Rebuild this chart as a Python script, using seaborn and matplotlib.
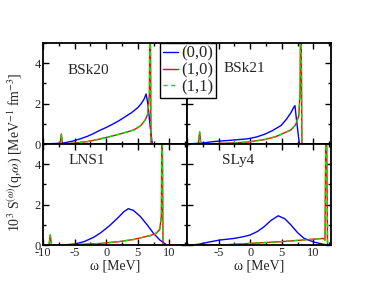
import numpy as np
import pandas as pd
import seaborn as sns
import matplotlib.pyplot as plt
from matplotlib.ticker import MultipleLocator
from matplotlib.lines import Line2D

# omega grids [MeV] and 10^3 S(q,w) [MeV^-1 fm^-3]
# the (1,1) curve sits on top of the (1,0) curve in every panel
w00_bsk20 = [-10, -6.8, -6, -5, -4, -3, -2, -1, 0, 1, 2, 3, 4, 5, 5.5, 6.0, 6.33, 6.6, 7.0, 7.3, 12.8]
s00_bsk20 = [0.0, 0.05, 0.1, 0.17, 0.27, 0.38, 0.52, 0.68, 0.82, 0.98, 1.15, 1.35, 1.55, 1.8, 1.98, 2.22, 2.48, 2.0, 0.8, 0.0, 0.0]
w10_bsk20 = [-10, -7.3, -7.1, -6.9, -5, -3, -1, 1, 3, 4.4, 5.5, 6.2, 6.6, 6.85, 6.96, 7.1, 12.8]
s10_bsk20 = [0.0, 0.0, 0.5, 0.0, 0.05, 0.12, 0.25, 0.4, 0.57, 0.7, 0.92, 1.2, 1.5, 2.5, 8.0, 0.0, 0.0]

w00_bsk21 = [-10, -7.4, -5.6, -3, -0.4, 1, 2.25, 3.5, 4.9, 5.8, 6.45, 6.9, 7.1, 7.3, 7.8, 12.8]
s00_bsk21 = [0.0, 0.06, 0.13, 0.19, 0.26, 0.35, 0.48, 0.66, 0.92, 1.25, 1.55, 1.82, 1.9, 1.3, 0.0, 0.0]
w10_bsk21 = [-10, -8.2, -8.0, -7.8, -3, -0.4, 2.25, 4, 4.9, 6.45, 7.2, 7.7, 7.9, 8.03, 8.2, 12.8]
s10_bsk21 = [0.0, 0.0, 0.6, 0.0, 0.05, 0.1, 0.22, 0.36, 0.48, 0.7, 0.95, 1.4, 2.5, 8.0, 0.0, 0.0]

w00_lns1 = [-10, -7.2, -5, -3.5, -2, -0.9, 0.5, 1.8, 2.8, 3.5, 4.3, 5.4, 6.5, 7.5, 8.5, 9.6, 12.8]
s00_lns1 = [0.0, 0.0, 0.05, 0.17, 0.38, 0.6, 0.95, 1.33, 1.65, 1.8, 1.72, 1.42, 1.0, 0.58, 0.25, 0.0, 0.0]
w10_lns1 = [-10, -9.05, -8.85, -8.65, -5, -0.9, 2, 4.4, 6, 7, 8, 8.5, 8.75, 8.85, 9.0, 12.8]
s10_lns1 = [0.0, 0.0, 0.5, 0.0, 0.02, 0.08, 0.17, 0.28, 0.4, 0.47, 0.6, 0.78, 1.5, 8.0, 0.0, 0.0]

w00_sly4 = [-10, -9.3, -8, -6.5, -4.8, -2.5, -1, 0, 1.2, 2.25, 3.3, 4.45, 5.5, 6.45, 7.5, 8.55, 10.1, 11.7, 12.8]
s00_sly4 = [0.0, 0.0, 0.05, 0.15, 0.25, 0.33, 0.42, 0.5, 0.68, 0.92, 1.22, 1.45, 1.3, 1.0, 0.62, 0.33, 0.15, 0.03, 0.0]
w10_sly4 = [-10, -4.8, 5.0, 11.6, 11.85, 12.05, 12.25, 12.8]
s10_sly4 = [0.0, 0.0, 0.17, 0.33, 0.25, 8.0, 0.0, 0.0]

models = ["BSk20", "BSk21", "LNS1", "SLy4"]
curves = {
    "BSk20": (w00_bsk20, s00_bsk20, w10_bsk20, s10_bsk20),
    "BSk21": (w00_bsk21, s00_bsk21, w10_bsk21, s10_bsk21),
    "LNS1": (w00_lns1, s00_lns1, w10_lns1, s10_lns1),
    "SLy4": (w00_sly4, s00_sly4, w10_sly4, s10_sly4),
}
series_labels = ["(0,0)", "(1,0)", "(1,1)"]
label_pos = {"BSk20": (0.167, 0.73), "BSk21": (0.257, 0.75),
             "LNS1": (0.174, 0.84), "SLy4": (0.243, 0.84)}

sns.set_style("ticks")
plt.rcParams["font.family"] = ["Liberation Serif", "DejaVu Serif"]
plt.rcParams["mathtext.fontset"] = "stix"

blue, red, green = "#0000ff", "#ff0000", "#00e600"

fig, axes = plt.subplots(2, 2, figsize=(3.74, 2.89), dpi=100)
fig.subplots_adjust(left=0.115, right=0.885, top=0.851, bottom=0.152,
                    hspace=0, wspace=0)

for ax, name in zip(axes.flat, models):
    w0, s0, w1, s1 = curves[name]
    sns.lineplot(x=w0, y=s0, ax=ax, color=blue, lw=1.0, estimator=None, sort=False)
    sns.lineplot(x=w1, y=s1, ax=ax, color=red, lw=1.0, estimator=None, sort=False)
    sns.lineplot(x=w1, y=s1, ax=ax, color=green, lw=1.0, estimator=None,
                 sort=False, linestyle=(0, (3, 2.5)))
    ax.set_xlim(-10, 12.8)
    ax.set_ylim(0, 5)
    ax.xaxis.set_major_locator(MultipleLocator(5))
    ax.xaxis.set_minor_locator(MultipleLocator(2.5))
    ax.yaxis.set_major_locator(MultipleLocator(2))
    ax.yaxis.set_minor_locator(MultipleLocator(1))
    ax.tick_params(which="both", direction="in", top=True, right=True,
                   labelsize=9, pad=1.5, width=1.0, color="black")
    ax.tick_params(which="major", length=4.5)
    ax.tick_params(which="minor", length=2.5)
    for sp in ax.spines.values():
        sp.set_linewidth(1.3)
        sp.set_color("black")
    ax.set_xlabel("")
    ax.set_ylabel("")
    lx, ly = label_pos[name]
    ax.text(lx, ly, name, transform=ax.transAxes, fontsize=11,
            ha="left", va="center")

for ax in axes[0]:
    ax.tick_params(labelbottom=False)
for ax in axes[:, 1]:
    ax.tick_params(labelleft=False)
axes[1, 1].set_xticks([-5, 0, 5, 10])
axes[1, 1].set_xticklabels(["-5", "0", "5", "10"])
axes[1, 0].set_xticks([-10, -5, 0, 5, 10])
axes[1, 0].set_xticklabels(["-10", "-5", "0", "5", "10"])
for ax in axes[1]:
    ax.set_xlabel("ω [MeV]", fontsize=10, labelpad=0)

fig.text(0.04, 0.474, r"10$^{3}$ S$^{(\omega)}$(q,$\omega$) [MeV$^{-1}$ fm$^{-3}$]",
         rotation=90, ha="center", va="center", fontsize=10)

handles = [Line2D([], [], color=blue, lw=1.0),
           Line2D([], [], color=red, lw=1.0),
           Line2D([], [], color=green, lw=1.0, linestyle=(0, (3, 2.5)))]
leg = fig.legend(handles, series_labels, loc="upper left",
                 bbox_to_anchor=(160 / 374, 1 - 43 / 289), fontsize=12,
                 frameon=True, fancybox=False, borderpad=0.15, borderaxespad=0,
                 handlelength=0.9, handletextpad=0.25, labelspacing=0.05)
leg.get_frame().set_edgecolor("black")
leg.get_frame().set_linewidth(1.0)
leg.get_frame().set_alpha(1)

fig.savefig("out.png", dpi=100)
